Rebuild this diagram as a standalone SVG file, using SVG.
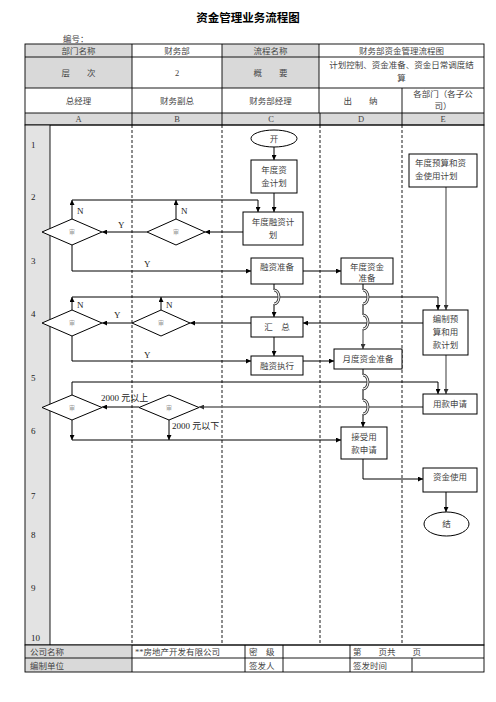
<svg xmlns="http://www.w3.org/2000/svg" width="496" height="702" viewBox="0 0 496 702">
<style>
text{font-family:"Liberation Serif","Noto Sans CJK SC",serif;font-size:8.5px;fill:#444;}
.t{font-size:11.5px;font-weight:bold;fill:#000;text-anchor:middle;}
.c{text-anchor:middle;}
.n{font-size:9px;fill:#222;}
.lab{font-size:9px;fill:#222;}
.dt{font-size:6px;fill:#999;text-anchor:middle;}
.g{fill:#d9d9d9;}
.gc{fill:#e3e3e3;}
.cell{fill:none;stroke:#000;stroke-width:0.9;}
.ln{fill:none;stroke:#000;stroke-width:0.9;}
.lane{fill:none;stroke:#000;stroke-width:0.9;stroke-dasharray:3,2;}
.box{fill:#fff;stroke:#000;stroke-width:1;}
.dia{fill:#fff;stroke:#000;stroke-width:1;}
.cn{fill:none;stroke:#000;stroke-width:1;}
.cg{fill:none;stroke:#666;stroke-width:1.3;}
.hop1{fill:none;stroke:#333;stroke-width:2.8;}
.hop2{fill:none;stroke:#fff;stroke-width:1.1;}
</style>
<defs>
<marker id="ah" viewBox="0 0 6 6" refX="6" refY="3" markerWidth="6" markerHeight="5" orient="auto" markerUnits="userSpaceOnUse"><path d="M0,0 L6,3 L0,6 z" fill="#000"/></marker>
<marker id="ahg" viewBox="0 0 6 6" refX="6" refY="3" markerWidth="6" markerHeight="5" orient="auto" markerUnits="userSpaceOnUse"><path d="M0,0 L6,3 L0,6 z" fill="#333"/></marker>
</defs>
<rect width="496" height="702" fill="#fff"/>

<!-- title -->
<text class="t" x="248" y="22">资金管理业务流程图</text>
<text x="63" y="42">编号：</text>

<!-- header table -->
<g id="header">
<rect class="g" x="25" y="44" width="107" height="44"/>
<rect class="g" x="222" y="44" width="97" height="44"/>
<rect class="g" x="25" y="113" width="459" height="12"/>
<rect class="cell" x="25" y="44" width="459" height="81"/>
<path class="ln" d="M25,57H484 M25,88H484 M25,113H484 M132,44V125 M222,44V125 M319,44V113 M402,88V125 M320,113V125"/>
<text class="c" x="78.5" y="54">部门名称</text>
<text class="c" x="177" y="54">财务部</text>
<text class="c" x="270.5" y="54">流程名称</text>
<text class="c" x="401.5" y="54">财务部资金管理流程图</text>
<text class="c" x="78.5" y="75.5">层　　次</text>
<text class="c" x="177" y="75.5">2</text>
<text class="c" x="270.5" y="75.5">概　　要</text>
<text class="c" x="401.5" y="68">计划控制、资金准备、资金日常调度结</text>
<text class="c" x="401.5" y="81">算</text>
<text class="c" x="78.5" y="103.5">总经理</text>
<text class="c" x="177" y="103.5">财务副总</text>
<text class="c" x="270.5" y="103.5">财务部经理</text>
<text class="c" x="360.5" y="103.5">出　　纳</text>
<text class="c" x="443" y="97">各部门（各子公</text>
<text class="c" x="443" y="109">司）</text>
<text class="c" x="78.5" y="122">A</text>
<text class="c" x="177" y="122">B</text>
<text class="c" x="271" y="122">C</text>
<text class="c" x="361" y="122">D</text>
<text class="c" x="443" y="122">E</text>
</g>

<!-- swimlane area -->
<g id="lanes">
<rect class="gc" x="25" y="125" width="25" height="520"/>
<rect class="cell" x="25" y="125" width="459" height="520"/>
<path class="ln" d="M50,125V645"/>
<path class="lane" d="M132,125V645 M222,125V645 M320,125V645 M402,125V645"/>
<text class="n" x="31" y="148">1</text>
<text class="n" x="31" y="200">2</text>
<text class="n" x="31" y="264">3</text>
<text class="n" x="31" y="317">4</text>
<text class="n" x="31" y="381">5</text>
<text class="n" x="31" y="434">6</text>
<text class="n" x="31" y="499">7</text>
<text class="n" x="31" y="538">8</text>
<text class="n" x="31" y="591">9</text>
<text class="n" x="31" y="641">10</text>
</g>

<!-- footer -->
<g id="footer">
<rect class="g" x="25" y="645" width="107" height="27"/>
<rect class="cell" x="25" y="645" width="459" height="27"/>
<path class="ln" d="M25,658H484 M132,645V672 M245,645V672 M283,645V672 M350,645V672 M412,658V672"/>
<text x="30" y="655">公司名称</text>
<text x="30" y="669">编制单位</text>
<text x="135" y="655">**房地产开发有限公司</text>
<text x="249" y="655">密　级</text>
<text x="249" y="669">签发人</text>
<text x="353" y="655">第　　页共　　页</text>
<text x="353" y="669">签发时间</text>
</g>

<!-- connectors -->
<g id="connectors">
<path class="cn" d="M274,147V160" marker-end="url(#ah)"/>
<path class="cn" d="M274,193V212" marker-end="url(#ah)"/>
<path class="cn" d="M72,219V200" marker-end="url(#ah)"/>
<path class="cn" d="M176,219V200" marker-end="url(#ah)"/>
<path class="cn" d="M72,200H258V212" marker-end="url(#ah)"/>
<path class="cn" d="M243,232H205" marker-end="url(#ah)"/>
<path class="cn" d="M147,232H102" marker-end="url(#ah)"/>
<path class="cn" d="M72,245V271H251" marker-end="url(#ah)"/>
<path class="cn" d="M303,271H341" marker-end="url(#ah)"/>
<path class="cg" d="M446,187V310" marker-end="url(#ahg)"/>
<path class="cn" d="M72,310V297" marker-end="url(#ah)"/>
<path class="cn" d="M161,310V297" marker-end="url(#ah)"/>
<path class="cn" d="M72,297H438V310" marker-end="url(#ah)"/>
<path class="cn" d="M274,284V290 M274,304V317" marker-end="url(#ah)"/>
<path class="cn" d="M363,284V290 M363,304V315"/>
<path class="cg" d="M363,329V349" marker-end="url(#ahg)"/>
<path class="cn" d="M423,323H303" marker-end="url(#ah)"/>
<path class="cn" d="M251,323H190" marker-end="url(#ah)"/>
<path class="cn" d="M132,323H102" marker-end="url(#ah)"/>
<path class="cn" d="M72,336V361H251" marker-end="url(#ah)"/>
<path class="cn" d="M274,337V356" marker-end="url(#ah)"/>
<path class="cn" d="M303,361H334" marker-end="url(#ah)"/>
<path class="cn" d="M72,395V382H438V394" marker-end="url(#ah)"/>
<path class="cg" d="M446,355V394" marker-end="url(#ahg)"/>
<path class="cn" d="M363,369V375 M363,389V400 M363,414V427" marker-end="url(#ah)"/>
<path class="cg" d="M423,407H199" marker-end="url(#ahg)"/>
<path class="cn" d="M139,407H102" marker-end="url(#ah)"/>
<path class="cn" d="M72,420V440" marker-end="url(#ah)"/>
<path class="cn" d="M169,420V440" marker-end="url(#ah)"/>
<path class="cn" d="M72,440H341" marker-end="url(#ah)"/>
<path class="cn" d="M363,459V479H423" marker-end="url(#ah)"/>
<path class="cn" d="M446,492V512" marker-end="url(#ah)"/>
<!-- line hops -->
<path class="hop1" d="M274,290A5,7 0 0 1 274,304"/>
<path class="hop2" d="M274,290A5,7 0 0 1 274,304"/>
<path class="hop1" d="M363,290A5,7 0 0 1 363,304"/>
<path class="hop2" d="M363,290A5,7 0 0 1 363,304"/>
<path class="hop1" d="M363,315A5,7 0 0 1 363,329"/>
<path class="hop2" d="M363,315A5,7 0 0 1 363,329"/>
<path class="hop1" d="M363,375A5,7 0 0 1 363,389"/>
<path class="hop2" d="M363,375A5,7 0 0 1 363,389"/>
<path class="hop1" d="M363,400A5,7 0 0 1 363,414"/>
<path class="hop2" d="M363,400A5,7 0 0 1 363,414"/>
<!-- labels -->
<text class="lab" x="77" y="214">N</text>
<text class="lab" x="181" y="214">N</text>
<text class="lab" x="118" y="228">Y</text>
<text class="lab" x="144" y="267">Y</text>
<text class="lab" x="77" y="308">N</text>
<text class="lab" x="166" y="308">N</text>
<text class="lab" x="114" y="318">Y</text>
<text class="lab" x="144" y="358">Y</text>
<text class="lab" x="101" y="401">2000 元以上</text>
<text class="lab" x="172" y="429">2000 元以下</text>
</g>

<!-- nodes -->
<g id="start"><ellipse class="box" cx="274" cy="138.5" rx="23" ry="8.5"/><text class="c" x="274" y="141.5">开</text></g>
<g id="n_plan"><rect class="box" x="251" y="160" width="46" height="33"/><text class="c" x="274" y="173">年度资</text><text class="c" x="274" y="186">金计划</text></g>
<g id="n_finplan"><rect class="box" x="243" y="212" width="60" height="33"/><text class="c" x="273" y="225">年度融资计</text><text class="c" x="273" y="238">划</text></g>
<g id="d1"><polygon class="dia" points="42,232 72,219 102,232 72,245"/><text class="dt" x="72" y="234">审</text></g>
<g id="d2"><polygon class="dia" points="147,232 176,219 205,232 176,245"/><text class="dt" x="176" y="234">审</text></g>
<g id="n_finprep"><rect class="box" x="251" y="258" width="52" height="26"/><text class="c" x="277" y="270">融资准备</text></g>
<g id="n_yearprep"><rect class="box" x="341" y="258" width="52" height="26"/><text class="c" x="367" y="270">年度资金</text><text class="c" x="367" y="281">准备</text></g>
<g id="n_budget"><rect class="box" x="409" y="154" width="68" height="33"/><text x="415" y="166">年度预算和资</text><text x="415" y="179">金使用计划</text></g>
<g id="n_compile"><rect class="box" x="423" y="310" width="45" height="45"/><text class="c" x="445.5" y="322">编制预</text><text class="c" x="445.5" y="335">算和用</text><text class="c" x="445.5" y="348">款计划</text></g>
<g id="n_sum"><rect class="box" x="251" y="317" width="52" height="20"/><text class="c" x="277" y="330">汇　总</text></g>
<g id="d3"><polygon class="dia" points="42,323 72,310 102,323 72,336"/><text class="dt" x="72" y="325">审</text></g>
<g id="d4"><polygon class="dia" points="132,323 161,310 190,323 161,336"/><text class="dt" x="161" y="325">审</text></g>
<g id="n_exec"><rect class="box" x="251" y="356" width="52" height="19"/><text class="c" x="277" y="368.5">融资执行</text></g>
<g id="n_month"><rect class="box" x="334" y="349" width="68" height="20"/><text class="c" x="368" y="362">月度资金准备</text></g>
<g id="n_apply"><rect class="box" x="423" y="394" width="54" height="20"/><text class="c" x="450" y="407">用款申请</text></g>
<g id="d5"><polygon class="dia" points="42,407.5 72,395 102,407.5 72,420"/><text class="dt" x="72" y="409.5">审</text></g>
<g id="d6"><polygon class="dia" points="139,407.5 169,395 199,407.5 169,420"/><text class="dt" x="169" y="409.5">审</text></g>
<g id="n_accept"><rect class="box" x="341" y="427" width="46" height="32"/><text class="c" x="364" y="440">接受用</text><text class="c" x="364" y="453">款申请</text></g>
<g id="n_use"><rect class="box" x="423" y="468" width="54" height="24"/><text class="c" x="450" y="480">资金使用</text></g>
<g id="end"><ellipse class="box" cx="446.5" cy="524" rx="22.5" ry="12"/><text class="c" x="446.5" y="527">结</text></g>
</svg>
